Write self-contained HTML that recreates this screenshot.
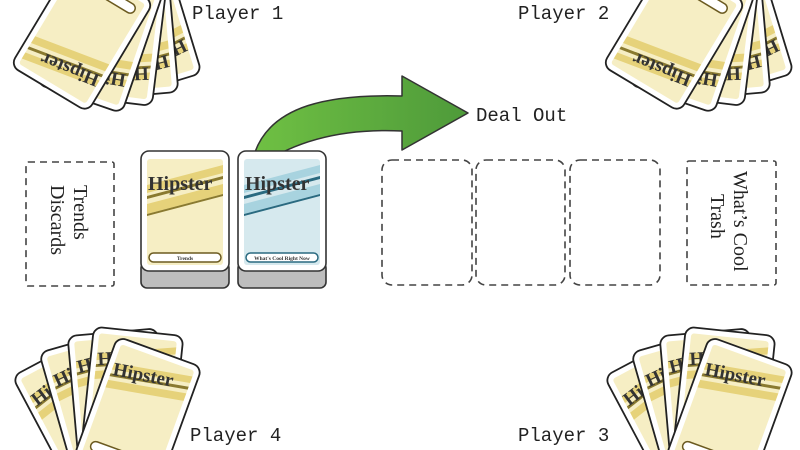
<!DOCTYPE html>
<html><head><meta charset="utf-8"><style>
html,body{margin:0;padding:0;background:#fff;width:800px;height:450px;overflow:hidden}
#w{width:800px;height:450px;overflow:hidden;position:relative}
svg{display:block}
.t{font-family:"Liberation Mono",monospace;fill:#222}
.s{font-family:"Liberation Serif",serif;fill:#222}
.h{font-family:"Liberation Serif",serif;font-weight:bold;fill:#333}
</style></head><body><div id="w">
<svg width="800" height="450" viewBox="0 0 800 450" xmlns="http://www.w3.org/2000/svg">
<defs>
<linearGradient id="g" x1="0" y1="0" x2="1" y2="0">
<stop offset="0" stop-color="#6fc043"/><stop offset="1" stop-color="#4e9a3a"/>
</linearGradient>
</defs>

<!-- TOP LEFT FAN -->
<g>
<g transform="translate(140,25) rotate(163) translate(-45,-64)"><rect width="90" height="128" rx="9" fill="#fff" stroke="#222" stroke-width="1.8"/><rect x="6" y="6" width="78" height="116" rx="3" fill="#f6eec4"/><polygon points="6,26 84,12 84,19 6,33" fill="#e6d27a"/><polygon points="6,37 84,23 84,26 6,40" fill="#8a7a30"/><polygon points="6,44 84,30 84,38 6,52" fill="#e6d27a"/><text x="8" y="38" class="h" font-size="19" transform="rotate(-9 8 38)">Hipster</text></g>
<g transform="translate(128,32) rotate(175) translate(-45,-64)"><rect width="90" height="128" rx="9" fill="#fff" stroke="#222" stroke-width="1.8"/><rect x="6" y="6" width="78" height="116" rx="3" fill="#f6eec4"/><polygon points="6,26 84,12 84,19 6,33" fill="#e6d27a"/><polygon points="6,37 84,23 84,26 6,40" fill="#8a7a30"/><polygon points="6,44 84,30 84,38 6,52" fill="#e6d27a"/><text x="8" y="38" class="h" font-size="19" transform="rotate(-9 8 38)">Hipster</text></g>
<g transform="translate(115,37) rotate(187) translate(-45,-64)"><rect width="90" height="128" rx="9" fill="#fff" stroke="#222" stroke-width="1.8"/><rect x="6" y="6" width="78" height="116" rx="3" fill="#f6eec4"/><polygon points="6,26 84,12 84,19 6,33" fill="#e6d27a"/><polygon points="6,37 84,23 84,26 6,40" fill="#8a7a30"/><polygon points="6,44 84,30 84,38 6,52" fill="#e6d27a"/><text x="8" y="38" class="h" font-size="19" transform="rotate(-9 8 38)">Hipster</text></g>
<g transform="translate(100,38) rotate(199) translate(-45,-64)"><rect width="90" height="128" rx="9" fill="#fff" stroke="#222" stroke-width="1.8"/><rect x="6" y="6" width="78" height="116" rx="3" fill="#f6eec4"/><polygon points="6,26 84,12 84,19 6,33" fill="#e6d27a"/><polygon points="6,37 84,23 84,26 6,40" fill="#8a7a30"/><polygon points="6,44 84,30 84,38 6,52" fill="#e6d27a"/><text x="8" y="38" class="h" font-size="19" transform="rotate(-9 8 38)">Hipster</text></g>
<g transform="translate(82,34) rotate(211) translate(-45,-64)"><rect width="90" height="128" rx="9" fill="#fff" stroke="#222" stroke-width="1.8"/><rect x="6" y="6" width="78" height="116" rx="3" fill="#f6eec4"/><polygon points="6,26 84,12 84,19 6,33" fill="#e6d27a"/><polygon points="6,37 84,23 84,26 6,40" fill="#8a7a30"/><polygon points="6,44 84,30 84,38 6,52" fill="#e6d27a"/><text x="8" y="38" class="h" font-size="19" transform="rotate(-9 8 38)">Hipster</text><rect x="12" y="106" width="66" height="10" rx="5" fill="#fff" stroke="#6b5a20" stroke-width="1.5"/></g>
</g>

<!-- TOP RIGHT FAN -->
<g transform="translate(592,0)">
<g transform="translate(140,25) rotate(163) translate(-45,-64)"><rect width="90" height="128" rx="9" fill="#fff" stroke="#222" stroke-width="1.8"/><rect x="6" y="6" width="78" height="116" rx="3" fill="#f6eec4"/><polygon points="6,26 84,12 84,19 6,33" fill="#e6d27a"/><polygon points="6,37 84,23 84,26 6,40" fill="#8a7a30"/><polygon points="6,44 84,30 84,38 6,52" fill="#e6d27a"/><text x="8" y="38" class="h" font-size="19" transform="rotate(-9 8 38)">Hipster</text></g>
<g transform="translate(128,32) rotate(175) translate(-45,-64)"><rect width="90" height="128" rx="9" fill="#fff" stroke="#222" stroke-width="1.8"/><rect x="6" y="6" width="78" height="116" rx="3" fill="#f6eec4"/><polygon points="6,26 84,12 84,19 6,33" fill="#e6d27a"/><polygon points="6,37 84,23 84,26 6,40" fill="#8a7a30"/><polygon points="6,44 84,30 84,38 6,52" fill="#e6d27a"/><text x="8" y="38" class="h" font-size="19" transform="rotate(-9 8 38)">Hipster</text></g>
<g transform="translate(115,37) rotate(187) translate(-45,-64)"><rect width="90" height="128" rx="9" fill="#fff" stroke="#222" stroke-width="1.8"/><rect x="6" y="6" width="78" height="116" rx="3" fill="#f6eec4"/><polygon points="6,26 84,12 84,19 6,33" fill="#e6d27a"/><polygon points="6,37 84,23 84,26 6,40" fill="#8a7a30"/><polygon points="6,44 84,30 84,38 6,52" fill="#e6d27a"/><text x="8" y="38" class="h" font-size="19" transform="rotate(-9 8 38)">Hipster</text></g>
<g transform="translate(100,38) rotate(199) translate(-45,-64)"><rect width="90" height="128" rx="9" fill="#fff" stroke="#222" stroke-width="1.8"/><rect x="6" y="6" width="78" height="116" rx="3" fill="#f6eec4"/><polygon points="6,26 84,12 84,19 6,33" fill="#e6d27a"/><polygon points="6,37 84,23 84,26 6,40" fill="#8a7a30"/><polygon points="6,44 84,30 84,38 6,52" fill="#e6d27a"/><text x="8" y="38" class="h" font-size="19" transform="rotate(-9 8 38)">Hipster</text></g>
<g transform="translate(82,34) rotate(211) translate(-45,-64)"><rect width="90" height="128" rx="9" fill="#fff" stroke="#222" stroke-width="1.8"/><rect x="6" y="6" width="78" height="116" rx="3" fill="#f6eec4"/><polygon points="6,26 84,12 84,19 6,33" fill="#e6d27a"/><polygon points="6,37 84,23 84,26 6,40" fill="#8a7a30"/><polygon points="6,44 84,30 84,38 6,52" fill="#e6d27a"/><text x="8" y="38" class="h" font-size="19" transform="rotate(-9 8 38)">Hipster</text><rect x="12" y="106" width="66" height="10" rx="5" fill="#fff" stroke="#6b5a20" stroke-width="1.5"/></g>
</g>

<!-- BOTTOM LEFT FAN -->
<g>
<g transform="translate(82,412) rotate(-28) translate(-45,-64)"><rect width="90" height="128" rx="9" fill="#fff" stroke="#222" stroke-width="1.8"/><rect x="6" y="6" width="78" height="116" rx="3" fill="#f6eec4"/><polygon points="6,26 84,12 84,19 6,33" fill="#e6d27a"/><polygon points="6,37 84,23 84,26 6,40" fill="#8a7a30"/><polygon points="6,44 84,30 84,38 6,52" fill="#e6d27a"/><text x="8" y="38" class="h" font-size="19" transform="rotate(-9 8 38)">Hipster</text></g>
<g transform="translate(100,402) rotate(-16) translate(-45,-64)"><rect width="90" height="128" rx="9" fill="#fff" stroke="#222" stroke-width="1.8"/><rect x="6" y="6" width="78" height="116" rx="3" fill="#f6eec4"/><polygon points="6,26 84,12 84,19 6,33" fill="#e6d27a"/><polygon points="6,37 84,23 84,26 6,40" fill="#8a7a30"/><polygon points="6,44 84,30 84,38 6,52" fill="#e6d27a"/><text x="8" y="38" class="h" font-size="19" transform="rotate(-9 8 38)">Hipster</text></g>
<g transform="translate(118,396) rotate(-5) translate(-45,-64)"><rect width="90" height="128" rx="9" fill="#fff" stroke="#222" stroke-width="1.8"/><rect x="6" y="6" width="78" height="116" rx="3" fill="#f6eec4"/><polygon points="6,26 84,12 84,19 6,33" fill="#e6d27a"/><polygon points="6,37 84,23 84,26 6,40" fill="#8a7a30"/><polygon points="6,44 84,30 84,38 6,52" fill="#e6d27a"/><text x="8" y="38" class="h" font-size="19" transform="rotate(-9 8 38)">Hipster</text></g>
<g transform="translate(132,395) rotate(6) translate(-45,-64)"><rect width="90" height="128" rx="9" fill="#fff" stroke="#222" stroke-width="1.8"/><rect x="6" y="6" width="78" height="116" rx="3" fill="#f6eec4"/><polygon points="6,26 84,12 84,19 6,33" fill="#e6d27a"/><polygon points="6,37 84,23 84,26 6,40" fill="#8a7a30"/><polygon points="6,44 84,30 84,38 6,52" fill="#e6d27a"/><text x="8" y="38" class="h" font-size="19" transform="rotate(-9 8 38)">Hipster</text></g>
<g transform="translate(138,412) rotate(20) translate(-45,-64)"><rect width="90" height="128" rx="9" fill="#fff" stroke="#222" stroke-width="1.8"/><rect x="6" y="6" width="78" height="116" rx="3" fill="#f6eec4"/><polygon points="6,26 84,12 84,19 6,33" fill="#e6d27a"/><polygon points="6,37 84,23 84,26 6,40" fill="#8a7a30"/><polygon points="6,44 84,30 84,38 6,52" fill="#e6d27a"/><text x="8" y="38" class="h" font-size="19" transform="rotate(-9 8 38)">Hipster</text><rect x="12" y="106" width="66" height="10" rx="5" fill="#fff" stroke="#6b5a20" stroke-width="1.5"/></g>
</g>

<!-- BOTTOM RIGHT FAN -->
<g transform="translate(592,0)">
<g transform="translate(82,412) rotate(-28) translate(-45,-64)"><rect width="90" height="128" rx="9" fill="#fff" stroke="#222" stroke-width="1.8"/><rect x="6" y="6" width="78" height="116" rx="3" fill="#f6eec4"/><polygon points="6,26 84,12 84,19 6,33" fill="#e6d27a"/><polygon points="6,37 84,23 84,26 6,40" fill="#8a7a30"/><polygon points="6,44 84,30 84,38 6,52" fill="#e6d27a"/><text x="8" y="38" class="h" font-size="19" transform="rotate(-9 8 38)">Hipster</text></g>
<g transform="translate(100,402) rotate(-16) translate(-45,-64)"><rect width="90" height="128" rx="9" fill="#fff" stroke="#222" stroke-width="1.8"/><rect x="6" y="6" width="78" height="116" rx="3" fill="#f6eec4"/><polygon points="6,26 84,12 84,19 6,33" fill="#e6d27a"/><polygon points="6,37 84,23 84,26 6,40" fill="#8a7a30"/><polygon points="6,44 84,30 84,38 6,52" fill="#e6d27a"/><text x="8" y="38" class="h" font-size="19" transform="rotate(-9 8 38)">Hipster</text></g>
<g transform="translate(118,396) rotate(-5) translate(-45,-64)"><rect width="90" height="128" rx="9" fill="#fff" stroke="#222" stroke-width="1.8"/><rect x="6" y="6" width="78" height="116" rx="3" fill="#f6eec4"/><polygon points="6,26 84,12 84,19 6,33" fill="#e6d27a"/><polygon points="6,37 84,23 84,26 6,40" fill="#8a7a30"/><polygon points="6,44 84,30 84,38 6,52" fill="#e6d27a"/><text x="8" y="38" class="h" font-size="19" transform="rotate(-9 8 38)">Hipster</text></g>
<g transform="translate(132,395) rotate(6) translate(-45,-64)"><rect width="90" height="128" rx="9" fill="#fff" stroke="#222" stroke-width="1.8"/><rect x="6" y="6" width="78" height="116" rx="3" fill="#f6eec4"/><polygon points="6,26 84,12 84,19 6,33" fill="#e6d27a"/><polygon points="6,37 84,23 84,26 6,40" fill="#8a7a30"/><polygon points="6,44 84,30 84,38 6,52" fill="#e6d27a"/><text x="8" y="38" class="h" font-size="19" transform="rotate(-9 8 38)">Hipster</text></g>
<g transform="translate(138,412) rotate(20) translate(-45,-64)"><rect width="90" height="128" rx="9" fill="#fff" stroke="#222" stroke-width="1.8"/><rect x="6" y="6" width="78" height="116" rx="3" fill="#f6eec4"/><polygon points="6,26 84,12 84,19 6,33" fill="#e6d27a"/><polygon points="6,37 84,23 84,26 6,40" fill="#8a7a30"/><polygon points="6,44 84,30 84,38 6,52" fill="#e6d27a"/><text x="8" y="38" class="h" font-size="19" transform="rotate(-9 8 38)">Hipster</text><rect x="12" y="106" width="66" height="10" rx="5" fill="#fff" stroke="#6b5a20" stroke-width="1.5"/></g>
</g>

<!-- Labels -->
<text x="192" y="19" class="t" font-size="19">Player 1</text>
<text x="518" y="19" class="t" font-size="19">Player 2</text>
<text x="190" y="441" class="t" font-size="19">Player 4</text>
<text x="518" y="441" class="t" font-size="19">Player 3</text>

<!-- Arrow -->
<path d="M255,152 C272,105 330,94 402,96 L402,76 L468,113 L402,150 L402,131 C340,128 295,142 262,164 Z" fill="url(#g)" stroke="#333" stroke-width="1.5" stroke-linejoin="round"/>
<text x="476" y="121" class="t" font-size="19">Deal Out</text>

<!-- Dashed boxes -->
<g fill="none" stroke="#444" stroke-width="1.6" stroke-dasharray="7,5">
<rect x="26" y="162" width="88" height="124" rx="2"/>
<rect x="382" y="160" width="90" height="125" rx="10"/>
<rect x="476" y="160" width="89" height="125" rx="10"/>
<rect x="570" y="160" width="90" height="125" rx="10"/>
<rect x="687" y="161" width="89" height="124" rx="2"/>
</g>
<text transform="translate(74,185) rotate(90)" class="s" font-size="20">Trends</text>
<text transform="translate(51,185) rotate(90)" class="s" font-size="20">Discards</text>
<text transform="translate(734,171) rotate(90)" class="s" font-size="20">What’s Cool</text>
<text transform="translate(711,194) rotate(90)" class="s" font-size="20">Trash</text>

<!-- Decks -->
<g>
<rect x="141" y="262" width="88" height="26" rx="6" fill="#bdbdbd" stroke="#333" stroke-width="1.6"/>
<rect x="141" y="151" width="88" height="120" rx="8" fill="#fff" stroke="#333" stroke-width="1.6"/>
<rect x="147" y="159" width="76" height="106" rx="3" fill="#f6eec4"/>
<polygon points="147,185 223,165 223,173 147,193" fill="#e6d27a"/>
<polygon points="147,196 223,176 223,179 147,199" fill="#8a7a30"/>
<polygon points="147,204 223,184 223,194 147,214" fill="#e6d27a"/>
<polygon points="147,214 223,194 223,196 147,216" fill="#8a7a30"/>
<text x="148" y="190" class="h" font-size="20" fill="#333">Hipster</text>
<rect x="149" y="253" width="72" height="9" rx="4.5" fill="#fff" stroke="#6b5a20" stroke-width="1.5"/>
<text x="185" y="260" class="h" font-size="5.5" text-anchor="middle">Trends</text>
</g>
<g>
<rect x="238" y="262" width="88" height="26" rx="6" fill="#bdbdbd" stroke="#333" stroke-width="1.6"/>
<rect x="238" y="151" width="88" height="120" rx="8" fill="#fff" stroke="#333" stroke-width="1.6"/>
<rect x="244" y="159" width="76" height="106" rx="3" fill="#d6e9ee"/>
<polygon points="244,185 320,165 320,173 244,193" fill="#a8d3df"/>
<polygon points="244,196 320,176 320,179 244,199" fill="#2a6a80"/>
<polygon points="244,204 320,184 320,194 244,214" fill="#a8d3df"/>
<polygon points="244,214 320,194 320,196 244,216" fill="#2a6a80"/>
<text x="245" y="190" class="h" font-size="20" fill="#333">Hipster</text>
<rect x="246" y="253" width="72" height="9" rx="4.5" fill="#fff" stroke="#2a6a80" stroke-width="1.5"/>
<text x="282" y="260" class="h" font-size="5.5" text-anchor="middle">What's Cool Right Now</text>
</g>
</svg>
</div></body></html>
